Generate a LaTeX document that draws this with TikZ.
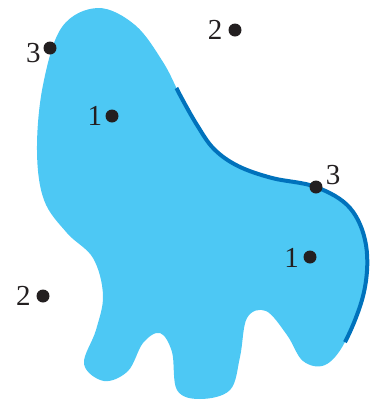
\documentclass[tikz,border=0pt]{standalone}
\usepackage{fontspec}
\setmainfont{Liberation Serif}
\definecolor{blobfill}{RGB}{77,200,244}
\definecolor{edgeblue}{RGB}{0,114,188}
\definecolor{dotcol}{RGB}{35,31,32}
\tikzset{
  dotnode/.style={circle,fill=dotcol,inner sep=0pt,minimum size=13pt},
  lab/.style={inner sep=0pt,text=dotcol,font=\fontsize{29}{34}\selectfont},
}
\begin{document}
\begin{tikzpicture}[x=1pt,y=-1pt]
\useasboundingbox (0,0) rectangle (375,400);
\def\blob{plot[smooth cycle,tension=0.6] coordinates{
(98,8) (135,25) (163,62) (180,95) (197,125) (214,149) (238,166) (272,178) (316,187)
(350,208) (366,245) (364,292) (345,342) (325,365) (303,361) (287,335)
(266,311) (247,318) (240,357) (230,390) (200,399) (177,390) (172,352)
(160,333) (143,343) (128,371) (104,381) (84,364) (96,330) (103,295)
(93,258) (67,233) (44,200) (37,150) (43,85) (62,27)}}
\fill[blobfill] \blob;
\begin{scope}
\clip (150,105) -- (220,60) -- (400,60) -- (400,366) -- (388,366) -- (323,330) -- cycle;
\draw[edgeblue,line width=4pt] \blob;
\end{scope}
\node[dotnode] (a) at (50,48) {};
\node[dotnode] (b) at (235,30) {};
\node[dotnode] (c) at (112,116) {};
\node[dotnode] (d) at (316,187) {};
\node[dotnode] (e) at (310,257) {};
\node[dotnode] (f) at (43,296) {};
\node[lab] (la) at (33.5,53) {3};
\node[lab] (lb) at (215,30) {2};
\node[lab] (lc) at (95,115.5) {1};
\node[lab] (ld) at (333,175) {3};
\node[lab] (le) at (291.5,257.5) {1};
\node[lab] (lf) at (23.5,296) {2};
\end{tikzpicture}
\end{document}
